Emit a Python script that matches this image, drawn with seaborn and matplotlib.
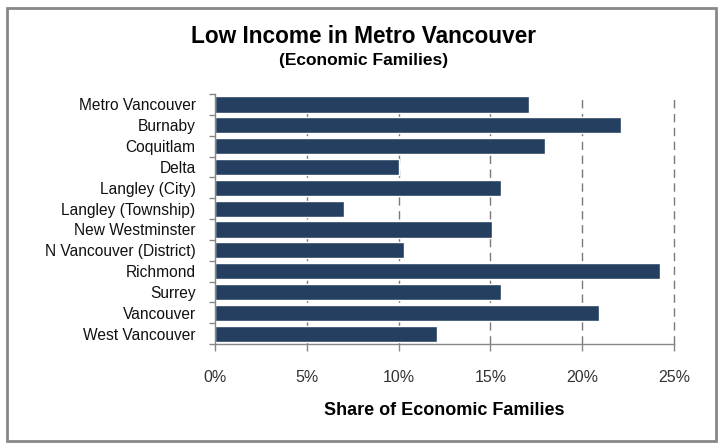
import seaborn as sns
import matplotlib.pyplot as plt
import pandas as pd
from matplotlib.patches import Rectangle
from matplotlib.ticker import PercentFormatter

areas = ["Metro Vancouver", "Burnaby", "Coquitlam", "Delta", "Langley (City)",
         "Langley (Township)", "New Westminster", "N Vancouver (District)",
         "Richmond", "Surrey", "Vancouver", "West Vancouver"]
share = [17.1, 22.1, 18.0, 10.0, 15.6, 7.0, 15.1, 10.3, 24.25, 15.6, 20.9, 12.1]
xticks = [0, 5, 10, 15, 20, 25]

df = pd.DataFrame({"area": areas, "share": share})

sns.set_theme(style="white")
plt.rcParams['font.family'] = ['Liberation Sans', 'DejaVu Sans']

fig = plt.figure(figsize=(7.25, 4.48), dpi=100)
ax = fig.add_axes([0.2966, 0.232, 0.633, 0.558])

sns.barplot(x="share", y="area", data=df, color="#243f60", width=0.77,
            orient="h", ax=ax, saturation=1)

ax.set_xlim(0, 25)
ax.set_xticks(xticks)
ax.xaxis.set_major_formatter(PercentFormatter(decimals=0))
# dashed vertical gridlines, the last one sits on the axes edge
for x in xticks[1:]:
    ax.axvline(x, color="#7a7a7a", linestyle=(0, (6, 4)), linewidth=1.0,
               zorder=0, clip_on=False)

for s in ["top", "right"]:
    ax.spines[s].set_visible(False)
for s in ["left", "bottom"]:
    ax.spines[s].set_color("#868686")
    ax.spines[s].set_linewidth(1.0)

ax.tick_params(axis="x", bottom=True, length=5, width=1, color="#868686",
               pad=14, labelsize=11.5, labelcolor="#333333")
ax.tick_params(axis="y", length=4, width=1, color="#868686",
               pad=10, labelsize=11.2, labelcolor="#111111")
ax.set_yticks(range(len(areas)))
ax.set_yticks([i + 0.5 for i in range(-1, len(areas))], minor=True)
ax.tick_params(axis="y", which="major", left=False)
ax.tick_params(axis="y", which="minor", left=True, length=4, width=1, color="#868686")

ax.set_ylabel("")
ax.set_xlabel("Share of Economic Families", fontsize=13, fontweight="bold",
              labelpad=12, color="black")

fig.text(0.502, 0.918, "Low Income in Metro Vancouver", ha="center", va="center",
         fontsize=16.3, fontweight="bold", color="black")
fig.text(0.502, 0.865, "(Economic Families)", ha="center", va="center",
         fontsize=12.5, fontweight="bold", color="black")

fig.patches.append(Rectangle((0.009, 0.016), 0.978, 0.967, transform=fig.transFigure,
                             fill=False, edgecolor="#888888", linewidth=2))

fig.savefig("out.png", dpi=100)
